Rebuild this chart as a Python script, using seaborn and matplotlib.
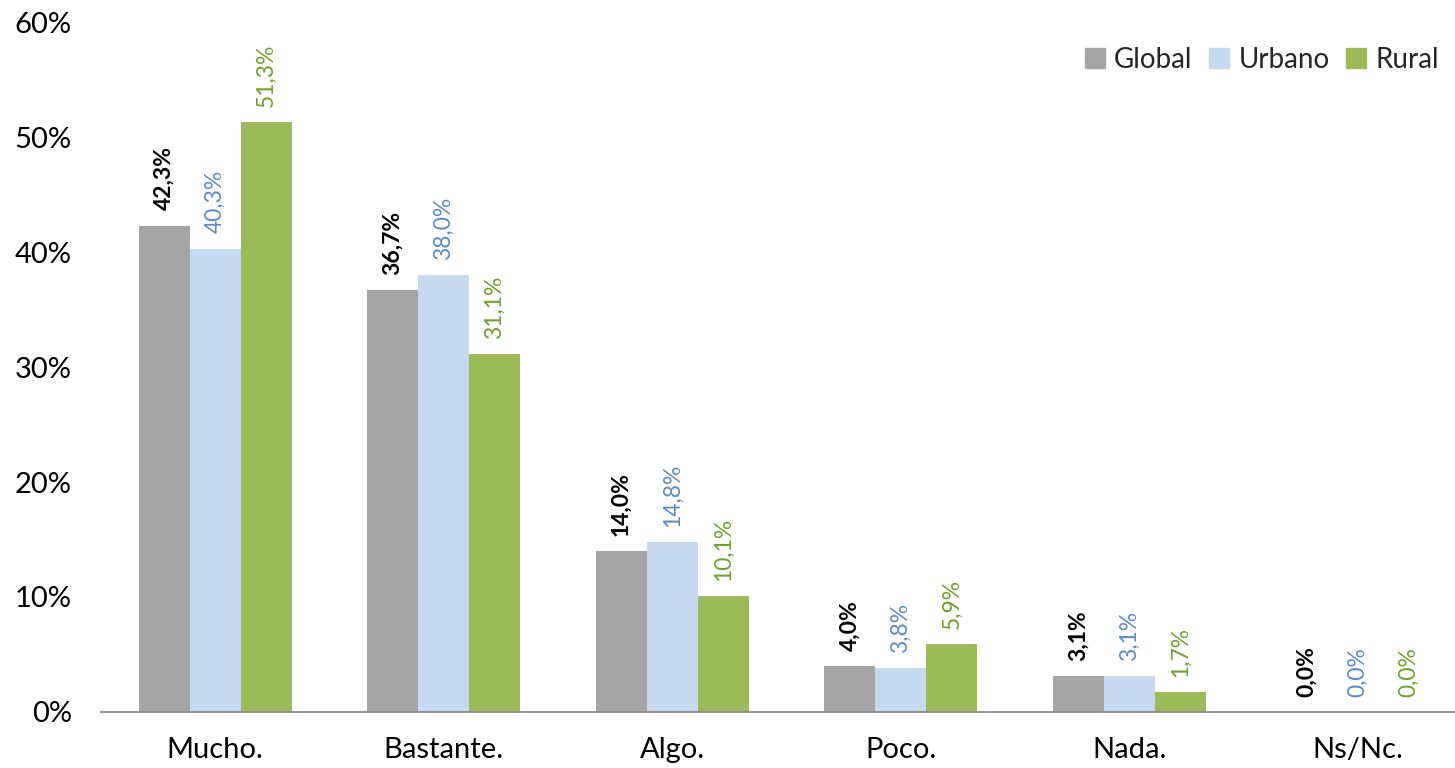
import matplotlib
matplotlib.use("Agg")
import matplotlib.pyplot as plt
import seaborn as sns
import pandas as pd
from matplotlib.ticker import PercentFormatter
from matplotlib.lines import Line2D

categories = ["Mucho.", "Bastante.", "Algo.", "Poco.", "Nada.", "Ns/Nc."]
series_names = ["Global", "Urbano", "Rural"]
global_vals = [42.3, 36.7, 14.0, 4.0, 3.1, 0.0]
urbano_vals = [40.3, 38.0, 14.8, 3.8, 3.1, 0.0]
rural_vals = [51.3, 31.1, 10.1, 5.9, 1.7, 0.0]

bar_colors = ["#a5a5a5", "#c6d9f0", "#9bbb59"]
label_colors = ["#000000", "#5b8bc6", "#6fa12a"]
label_weights = ["bold", "normal", "normal"]

sns.set_theme(style="white")
plt.rcParams["font.family"] = ["Lato", "DejaVu Sans"]

rows = []
for name, vals in zip(series_names, [global_vals, urbano_vals, rural_vals]):
    for c, v in zip(categories, vals):
        rows.append({"cat": c, "serie": name, "val": v / 100})
df = pd.DataFrame(rows)

fig = plt.figure(figsize=(14.55, 7.68), dpi=100)
ax = fig.add_axes([0.0694, 0.073, 0.9423, 0.898])

sns.barplot(data=df, x="cat", y="val", hue="serie", order=categories,
            hue_order=series_names, palette=bar_colors, width=0.67,
            saturation=1, ax=ax, legend=False, linewidth=0)

ax.set_ylim(0, 0.6)
ax.set_xlim(-0.5, len(categories) - 0.5)
ax.yaxis.set_major_formatter(PercentFormatter(1.0, decimals=0))
ax.set_yticks([0, 0.1, 0.2, 0.3, 0.4, 0.5, 0.6])
ax.set_xlabel("")
ax.set_ylabel("")
ax.tick_params(axis="y", labelsize=21, pad=21, length=0, colors="#000000")
ax.tick_params(axis="x", labelsize=21, pad=18, length=0, colors="#000000")
for s in ["top", "right", "left"]:
    ax.spines[s].set_visible(False)
ax.spines["bottom"].set_color("#8c8c8c")
ax.spines["bottom"].set_linewidth(1.3)

for i, cont in enumerate(ax.containers):
    for bar in cont:
        h = bar.get_height()
        txt = f"{h*100:.1f}%".replace(".", ",")
        ax.annotate(txt, (bar.get_x() + bar.get_width() / 2, h),
                    xytext=(0, 11), textcoords="offset points",
                    rotation=90, ha="center", va="bottom",
                    fontsize=16.5, color=label_colors[i], fontweight=label_weights[i])

handles = [Line2D([0], [0], marker="s", linestyle="", markersize=14,
                  markerfacecolor=c, markeredgecolor=c) for c in bar_colors]
ax.legend(handles, series_names, loc="upper right",
          bbox_to_anchor=(1450 / 1455, 1 - 36 / 768), bbox_transform=fig.transFigure,
          ncol=3, frameon=False, fontsize=20, handlelength=0.8,
          handletextpad=0.3, columnspacing=0.55, borderaxespad=0)

fig.savefig("out.png", dpi=100)
